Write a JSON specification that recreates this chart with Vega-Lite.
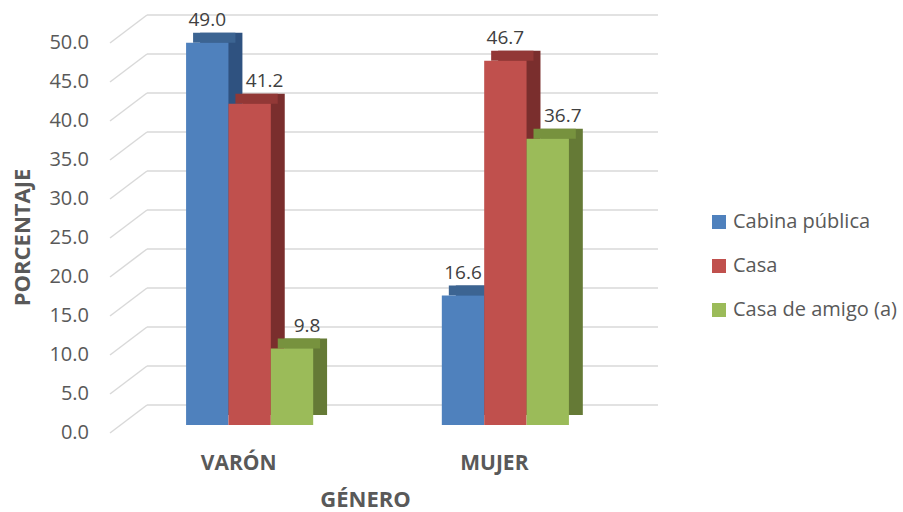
{
  "$schema": "https://vega.github.io/schema/vega-lite/v6.json",
  "width": 535,
  "height": 390,
  "autosize": {"type": "none"},
  "padding": {"left": 110, "top": 35, "right": 258, "bottom": 87},
  "background": "white",
  "config": {
    "font": "Open Sans",
    "view": {"stroke": null}
  },
  "datasets": {
    "bars": [
      {"genero": "VARÓN", "lugar": "Cabina pública", "v": 49.0},
      {"genero": "VARÓN", "lugar": "Casa", "v": 41.2},
      {"genero": "VARÓN", "lugar": "Casa de amigo (a)", "v": 9.8},
      {"genero": "MUJER", "lugar": "Cabina pública", "v": 16.6},
      {"genero": "MUJER", "lugar": "Casa", "v": 46.7},
      {"genero": "MUJER", "lugar": "Casa de amigo (a)", "v": 36.7}
    ],
    "ticks": [
      {"t": 0}, {"t": 5}, {"t": 10}, {"t": 15}, {"t": 20}, {"t": 25},
      {"t": 30}, {"t": 35}, {"t": 40}, {"t": 45}, {"t": 50}
    ]
  },
  "resolve": {"scale": {"color": "independent", "x": "independent"}},
  "layer": [
    {
      "data": {"name": "ticks"},
      "mark": {"type": "rule", "color": "#D9D9D9", "strokeWidth": 1.5, "yOffset": 8, "y2Offset": -20},
      "encoding": {
        "x": {"datum": 0, "type": "quantitative", "scale": {"domain": [0, 1], "range": [0, 37]}, "axis": null},
        "x2": {"datum": 1},
        "y": {
          "field": "t", "type": "quantitative", "scale": {"domain": [0, 50], "nice": false},
          "axis": {
            "labels": false, "ticks": false, "tickSize": 0,
            "domain": false, "grid": false,
            "title": "PORCENTAJE", "titleFontSize": 22, "titleFontWeight": "bold", "titleColor": "#595959",
            "titleAngle": -90, "titleX": -88, "titleY": 202, "titleAlign": "center", "titleBaseline": "middle"
          }
        },
        "y2": {"field": "t"}
      }
    },
    {
      "data": {"name": "ticks"},
      "mark": {"type": "text", "align": "right", "baseline": "middle", "dx": -21, "yOffset": 8, "fontSize": 20, "color": "#595959"},
      "encoding": {
        "x": {"datum": 0, "type": "quantitative", "scale": {"domain": [0, 1], "range": [0, 37]}, "axis": null},
        "y": {"field": "t", "type": "quantitative"},
        "text": {"field": "t", "type": "quantitative", "format": ".1f"}
      }
    },
    {
      "data": {"name": "ticks"},
      "mark": {"type": "rule", "color": "#D9D9D9", "strokeWidth": 1.5, "yOffset": -20},
      "encoding": {
        "x": {"datum": 0, "type": "quantitative", "scale": {"domain": [0, 1], "range": [37, 548]}, "axis": null},
        "x2": {"datum": 1},
        "y": {"field": "t", "type": "quantitative"}
      }
    },
    {
      "data": {"name": "bars"},
      "resolve": {"scale": {"color": "independent", "xOffset": "independent"}},
      "layer": [
        {
          "mark": {"type": "bar", "yOffset": -10, "y2Offset": -10},
          "encoding": {
            "xOffset": {
              "field": "lugar", "type": "nominal",
              "scale": {"domain": ["Cabina pública", "Casa", "Casa de amigo (a)"], "paddingInner": 0, "paddingOuter": 0, "range": [14, 141]}
            },
            "color": {"field": "lugar", "type": "nominal", "scale": {"domain": ["Cabina pública", "Casa", "Casa de amigo (a)"], "range": ["#2F5280", "#7A2E2D", "#657A36"]}, "legend": null}
          }
        },
        {
          "mark": {"type": "bar", "yOffset": -10},
          "encoding": {
            "xOffset": {
              "field": "lugar", "type": "nominal",
              "scale": {"domain": ["Cabina pública", "Casa", "Casa de amigo (a)"], "paddingInner": 0, "paddingOuter": 0, "range": [7, 134]}
            },
            "y2": {"field": "v"},
            "color": {"field": "lugar", "type": "nominal", "scale": {"domain": ["Cabina pública", "Casa", "Casa de amigo (a)"], "range": ["#3C6492", "#923836", "#77923E"]}, "legend": null}
          }
        },
        {
          "encoding": {
            "xOffset": {
              "field": "lugar", "type": "nominal",
              "scale": {"domain": ["Cabina pública", "Casa", "Casa de amigo (a)"], "paddingInner": 0, "paddingOuter": 0}
            }
          },
          "layer": [
            {
              "mark": {"type": "bar"},
              "encoding": {
                "color": {
                  "field": "lugar", "type": "nominal",
                  "scale": {"domain": ["Cabina pública", "Casa", "Casa de amigo (a)"], "range": ["#4F81BD", "#C0504D", "#9BBB59"]},
                  "legend": {
                    "orient": "none", "legendX": 599, "legendY": 177, "title": null,
                    "symbolType": "square", "symbolSize": 196, "symbolStrokeWidth": 0, "symbolOpacity": 1,
                    "labelFontSize": 20, "labelColor": "#595959", "labelOffset": 4, "rowPadding": 24, "labelLimit": 300
                  }
                }
              }
            },
            {
              "transform": [
                {"window": [{"op": "lag", "field": "v", "as": "prev"}], "groupby": ["genero"], "sort": [{"field": "lugar"}]},
                {"filter": "datum.prev == null || datum.prev <= datum.v"}
              ],
              "mark": {"type": "text", "baseline": "alphabetic", "dy": -17, "fontSize": 19, "color": "#404040"},
              "encoding": {
                "text": {"field": "v", "type": "quantitative", "format": ".1f"}
              }
            },
            {
              "transform": [
                {"window": [{"op": "lag", "field": "v", "as": "prev"}], "groupby": ["genero"], "sort": [{"field": "lugar"}]},
                {"filter": "datum.prev != null && datum.prev > datum.v"}
              ],
              "mark": {"type": "text", "baseline": "alphabetic", "dy": -17, "dx": 15, "fontSize": 19, "color": "#404040"},
              "encoding": {
                "text": {"field": "v", "type": "quantitative", "format": ".1f"}
              }
            }
          ]
        }
      ],
      "encoding": {
        "x": {
          "field": "genero", "type": "nominal", "sort": ["VARÓN", "MUJER"],
          "scale": {"paddingInner": 0.503, "paddingOuter": 0.2975},
          "axis": {
            "labelAngle": 0, "labelOffset": -11, "labelPadding": 38, "labelBaseline": "middle", "ticks": false, "tickSize": 0,
            "domain": false, "grid": false, "labelFontSize": 21, "labelFontWeight": "bold", "labelColor": "#595959",
            "title": "GÉNERO", "titleFontSize": 22, "titleFontWeight": "bold", "titleColor": "#595959",
            "titleX": 255, "titleY": 74, "titleAlign": "center", "titleBaseline": "middle"
          }
        },
        "y": {"field": "v", "type": "quantitative"}
      }
    }
  ]
}
